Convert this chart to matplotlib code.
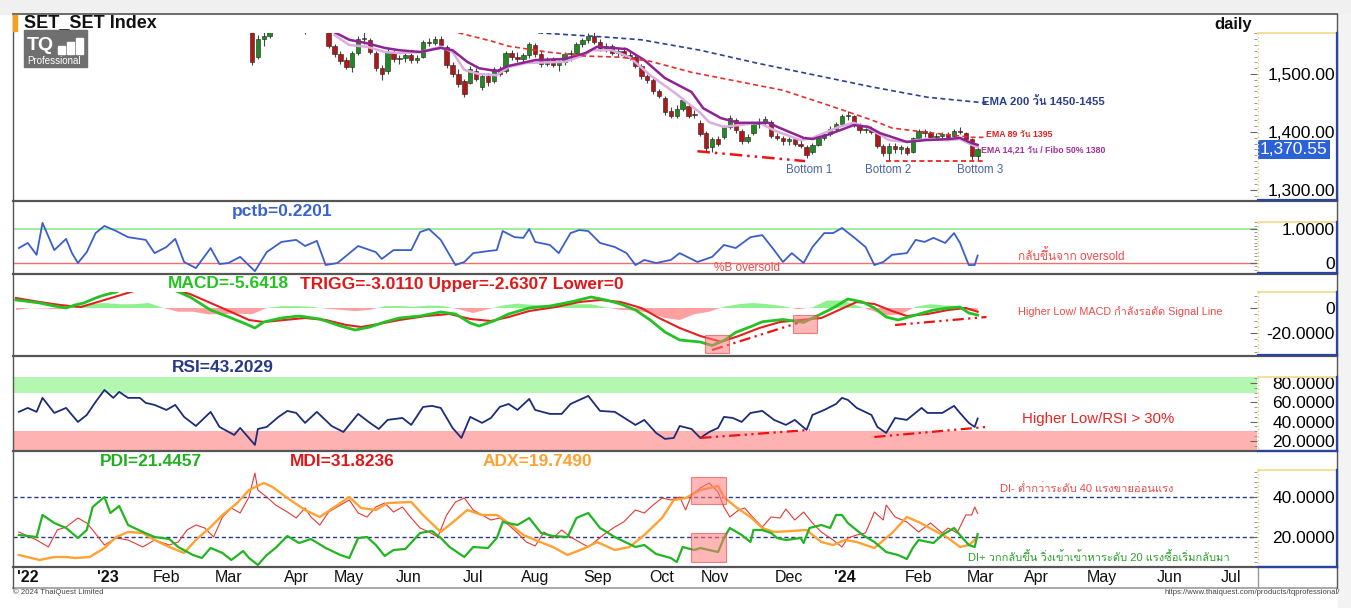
import numpy as np
import matplotlib
matplotlib.use("Agg")
import matplotlib.pyplot as plt
from matplotlib import font_manager
from matplotlib.ft2font import FT2Font
from matplotlib.patches import Rectangle
from matplotlib.lines import Line2D
from matplotlib.ticker import MultipleLocator
from matplotlib.transforms import blended_transform_factory

# ---------------- data (x = trading-day index) ----------------
tick_days = [5, 32, 52, 73, 96, 114, 134, 156, 177, 198, 220, 238, 263, 282, 307, 328, 347, 369, 392, 413]
tick_labels = ["'22", "'23", "Feb", "Mar", "Apr", "May", "Jun", "Jul", "Aug", "Sep", "Oct", "Nov", "Dec",
               "'24", "Feb", "Mar", "Apr", "May", "Jun", "Jul"]

# candles every 2nd session, day 79 .. 327
candle_day = list(range(79, 328, 2))
opens = [1585, 1575, 1530, 1560, 1566, 1578, 1585, 1590, 1594, 1596,
         1584, 1578, 1588, 1590, 1572, 1548, 1534, 1524, 1512, 1536,
         1560, 1558, 1536, 1510, 1505, 1538, 1526, 1528, 1532, 1524,
         1530, 1555, 1553, 1560, 1546, 1515, 1500, 1488, 1485, 1506,
         1478, 1496, 1488, 1508, 1505, 1536, 1530, 1526, 1532, 1550,
         1534, 1518, 1526, 1516, 1520, 1534, 1536, 1552, 1558, 1566,
         1556, 1545, 1548, 1536, 1540, 1533, 1530, 1514, 1496, 1490,
         1470, 1458, 1436, 1428, 1440, 1445, 1432, 1415, 1398, 1374,
         1388, 1392, 1408, 1420, 1402, 1384, 1398, 1414, 1418, 1418,
         1394, 1390, 1384, 1388, 1380, 1374, 1366, 1378, 1390, 1397,
         1406, 1414, 1428, 1428, 1412, 1404, 1406, 1398, 1376, 1364,
         1376, 1370, 1372, 1366, 1390, 1402, 1398, 1392, 1394, 1396,
         1394, 1402, 1398, 1388, 1358]
highs = [1592, 1578, 1568, 1572, 1580, 1590, 1596, 1600, 1604, 1602,
         1590, 1592, 1598, 1594, 1578, 1552, 1540, 1530, 1540, 1566,
         1572, 1562, 1540, 1516, 1545, 1542, 1532, 1538, 1536, 1532,
         1558, 1562, 1566, 1565, 1550, 1520, 1508, 1492, 1514, 1510,
         1500, 1502, 1512, 1514, 1540, 1541, 1538, 1536, 1555, 1554,
         1540, 1530, 1530, 1524, 1538, 1541, 1556, 1562, 1570, 1572,
         1560, 1553, 1551, 1545, 1546, 1538, 1534, 1518, 1500, 1494,
         1474, 1462, 1444, 1446, 1458, 1448, 1438, 1420, 1402, 1392,
         1394, 1412, 1429, 1424, 1406, 1396, 1418, 1424, 1428, 1420,
         1398, 1394, 1392, 1390, 1386, 1378, 1382, 1394, 1400, 1410,
         1418, 1432, 1436, 1430, 1416, 1412, 1410, 1400, 1380, 1382,
         1382, 1378, 1376, 1392, 1405, 1406, 1402, 1398, 1400, 1400,
         1406, 1408, 1400, 1390, 1374]
lows = [1576, 1515, 1526, 1548, 1562, 1574, 1580, 1584, 1586, 1580,
        1569, 1574, 1582, 1574, 1545, 1530, 1518, 1508, 1503, 1532,
        1552, 1534, 1505, 1490, 1500, 1520, 1518, 1520, 1519, 1519,
        1528, 1548, 1550, 1546, 1510, 1495, 1478, 1460, 1482, 1488,
        1472, 1480, 1485, 1496, 1502, 1524, 1520, 1521, 1528, 1530,
        1512, 1514, 1512, 1506, 1516, 1522, 1534, 1546, 1553, 1552,
        1540, 1538, 1532, 1529, 1530, 1524, 1510, 1492, 1484, 1466,
        1458, 1430, 1424, 1424, 1436, 1425, 1424, 1393, 1366, 1366,
        1376, 1388, 1405, 1398, 1380, 1381, 1395, 1407, 1412, 1390,
        1386, 1378, 1378, 1376, 1372, 1355, 1362, 1376, 1386, 1394,
        1402, 1412, 1420, 1408, 1398, 1398, 1396, 1372, 1358, 1352,
        1364, 1362, 1360, 1364, 1388, 1392, 1388, 1386, 1388, 1390,
        1392, 1396, 1384, 1352, 1352]
closes = [1580, 1521, 1560, 1566, 1576, 1585, 1590, 1594, 1598, 1584,
          1578, 1588, 1590, 1578, 1548, 1534, 1522, 1512, 1536, 1560,
          1562, 1538, 1510, 1500, 1538, 1526, 1528, 1532, 1524, 1528,
          1555, 1553, 1560, 1550, 1515, 1500, 1482, 1466, 1508, 1492,
          1496, 1486, 1508, 1500, 1536, 1530, 1526, 1532, 1552, 1534,
          1518, 1526, 1516, 1520, 1534, 1536, 1552, 1558, 1566, 1556,
          1545, 1548, 1536, 1540, 1533, 1528, 1514, 1496, 1490, 1470,
          1462, 1434, 1428, 1440, 1455, 1428, 1430, 1396, 1372, 1388,
          1380, 1408, 1424, 1404, 1384, 1392, 1414, 1418, 1422, 1394,
          1390, 1384, 1388, 1380, 1376, 1360, 1378, 1390, 1397, 1406,
          1414, 1428, 1430, 1412, 1404, 1406, 1400, 1376, 1364, 1376,
          1370, 1374, 1364, 1390, 1402, 1398, 1392, 1394, 1396, 1392,
          1402, 1400, 1388, 1358, 1370.55]

ema21_day = [109, 114, 120, 126, 131, 138, 145, 149, 154, 158, 164, 168, 177, 187, 194, 198, 208, 214, 221, 230,
             234, 240, 246, 256, 260, 268, 271, 276, 285, 290, 294, 303, 309, 317, 321, 325, 327]
ema21_val = [1572, 1559, 1553, 1545, 1541, 1538, 1545, 1541, 1521, 1510, 1505, 1514, 1524, 1526, 1536, 1547, 1543,
             1524, 1493, 1469, 1441, 1424, 1416, 1416, 1407, 1390, 1388, 1395, 1412, 1409, 1398, 1383, 1386, 1388,
             1390, 1381, 1378]
ema14_day = [109, 114, 120, 126, 131, 138, 145, 149, 153, 158, 164, 168, 174, 187, 194, 196, 203, 209, 216, 224,
             233, 236, 241, 246, 253, 258, 267, 271, 280, 285, 290, 297, 303, 309, 317, 321, 325, 327]
ema14_val = [1567, 1550, 1547, 1538, 1536, 1538, 1547, 1538, 1507, 1500, 1498, 1512, 1519, 1521, 1533, 1541, 1541,
             1529, 1498, 1469, 1433, 1417, 1409, 1412, 1416, 1403, 1386, 1390, 1409, 1416, 1407, 1386, 1383, 1388,
             1386, 1388, 1378, 1374]
ema89_day = [151, 162, 168, 181, 194, 206, 216, 230, 243, 261, 276, 291, 298, 309, 325, 329]
ema89_val = [1571, 1557, 1548, 1538, 1531, 1529, 1522, 1503, 1490, 1472, 1447, 1421, 1407, 1400, 1391, 1391]
ema200_day = [178, 200, 213, 233, 252, 272, 291, 310, 326, 330]
ema200_val = [1571, 1564, 1559, 1541, 1519, 1498, 1478, 1460, 1452, 1450]

bottom_line_day = [232, 268.5]
bottom_line_val = [1367, 1350]
base_line_day = [296, 329]
base_line_val = [1350, 1350]

pctb_day = [2, 5, 8, 10, 14, 18, 20, 22, 25, 28, 31, 35, 39, 45, 48, 52, 55, 58, 62, 67,
            70, 73, 77, 82, 86, 91, 96, 99, 103, 106, 110, 117, 123, 125, 129, 135, 138, 141, 145, 150,
            153, 156, 161, 164, 166, 170, 173, 175, 177, 182, 185, 189, 192, 195, 199, 204, 208, 211, 214, 218,
            223, 226, 232, 237, 241, 245, 250, 254, 258, 261, 264, 268, 271, 275, 278, 281, 285, 289, 292, 295,
            298, 303, 306, 309, 312, 316, 319, 321, 324, 326, 327]
pctb_val = [0.44, 0.59, 0.24, 1.18, 0.38, 0.71, 0.29, 0.0, 0.32, 0.88, 1.09, 0.94, 0.76, 0.68, 0.29, 0.47, 0.71,
            0.03, -0.15, 0.44, -0.03, 0.0, 0.18, -0.24, 0.32, 0.62, 0.68, 0.50, 0.65, -0.06, 0.0, 0.50, 0.32, 0.12,
            0.38, 0.38, 0.91, 1.0, 0.68, -0.06, 0.03, 0.29, 0.35, 0.38, 0.94, 0.76, 0.74, 1.0, 0.62, 0.53, 0.29,
            0.88, 0.97, 0.94, 0.59, 0.47, 0.29, -0.06, 0.09, 0.0, 0.09, 0.29, 0.03, 0.18, 0.53, 0.44, 0.76, 0.82,
            0.38, 0.03, 0.29, 0.0, 0.47, 0.88, 0.88, 1.03, 0.76, 0.47, -0.06, 0.03, 0.24, 0.29, 0.68, 0.62, 0.74,
            0.59, 0.88, 0.59, -0.06, -0.06, 0.22]

macd_day = [1, 4, 9, 14, 18, 21, 24, 28, 31, 35, 40, 46, 53, 60, 67, 74, 79, 82, 85, 91, 97, 104, 111, 116, 121,
            126, 131, 138, 145, 150, 155, 158, 163, 168, 175, 182, 189, 196, 201, 206, 211, 216, 221, 226, 233,
            237, 241, 245, 250, 254, 261, 268, 272, 278, 283, 288, 292, 296, 300, 306, 312, 317, 321, 324, 327]
macd_val = [6.4, 5.6, 4, 1.6, 0, 2.4, 4, 8, 10.4, 12.8, 18, 20, 16, 8.8, -1.6, -8, -12.8, -16, -11.2, -8, -6.4,
            -8.8, -14.4, -17.6, -15.2, -11.2, -8, -6.4, -3.2, -4.8, -12, -14.4, -10.4, -4.8, 0, 1.6, 4.8, 8.8, 6.4,
            3.2, -1.6, -9.6, -19.2, -25.6, -27.2, -30, -26, -19.5, -15, -11, -9.2, -11.5, -7, 0, 7.2, 4.8, 0, -7.2,
            -9.6, -5.6, -1.6, 0, 0.8, -4, -5.64]
trigg_day = [1, 9, 16, 23, 29, 36, 43, 52, 60, 67, 74, 80, 85, 92, 99, 106, 113, 118, 124, 131, 140, 148, 155, 162,
             168, 175, 184, 192, 199, 206, 213, 219, 226, 233, 240, 246, 253, 260, 267, 274, 280, 286, 292, 298,
             303, 310, 317, 323, 327]
trigg_val = [8, 4.8, 2.4, 0.8, 5, 10, 15, 16, 11.2, 4, -3.2, -9.6, -11.2, -9.6, -8, -9.6, -13.6, -15.2, -12.8,
             -9.6, -6.4, -4.8, -8.8, -10.4, -7.2, -2.4, 0.8, 4.8, 6.4, 4.8, 0, -8, -16, -22.4, -27, -22.4, -16,
             -11.2, -9.6, -8, -1.6, 4.8, 3.2, -2.4, -6.4, -4.8, -1.6, 0, -3.01]
hist_day = [1, 6, 11, 16, 21, 26, 31, 36, 41, 46, 51, 56, 61, 66, 71, 76, 81, 86, 91, 96, 101, 106, 111, 116, 121,
            126, 131, 136, 141, 146, 151, 156, 161, 166, 171, 176, 181, 186, 191, 196, 201, 206, 211, 216, 221,
            226, 231, 236, 241, 246, 251, 256, 261, 266, 271, 276, 281, 286, 291, 296, 301, 306, 311, 316, 321,
            324, 327]
hist_val = [-1.6, 0, -0.5, -1, 1.5, 3, 4, 3, 3, 4, 0, -3, -3, -5, -5, -4.5, -5, 0, 1.5, 1.5, 1, -0.5, -1.5, -2.5,
            -1.5, 1.5, 1.6, 1, 2, 1.5, -1, -4, -1, 2, 3.5, 2.5, 2, 3, 3, 3, 0.5, -1.5, -2, -4, -8, -9.6, -5, -3, 1,
            3, 4, 3, 1.5, -1, 0.5, 6, 6, 2, -2, -6, -5, 1, 3, 2, 1.5, -2, -2.63]
macd_tl1_day, macd_tl1_val = [237, 266], [-33.6, -12]
macd_tl2_day, macd_tl2_val = [299, 330], [-13.6, -7.2]

rsi_day = [2, 5, 8, 10, 14, 18, 20, 22, 25, 28, 31, 34, 36, 39, 43, 45, 48, 52, 55, 58,
           62, 67, 70, 75, 77, 82, 83, 86, 90, 93, 96, 99, 103, 108, 112, 117, 121, 124, 127, 132,
           135, 139, 142, 145, 149, 152, 155, 159, 162, 165, 168, 171, 175, 177, 182, 186, 189, 195, 199, 204,
           211, 214, 218, 221, 224, 226, 230, 233, 236, 239, 241, 244, 247, 250, 254, 258, 262, 265, 269, 271,
           275, 279, 281, 283, 286, 291, 293, 296, 299, 303, 308, 310, 315, 319, 321, 324, 326, 327]
rsi_val = [50.1, 54.2, 50.1, 64.6, 49, 54.2, 46.9, 39.7, 46.9, 60.4, 72.8, 64.6, 70.8, 64.6, 64.6, 59.4, 57.3,
           52.1, 57.3, 44.9, 35.5, 50.1, 34.5, 26.2, 33.5, 15.9, 32.4, 34.5, 44.9, 51.1, 49, 38.7, 50.1, 35.5,
           29.3, 48, 38.7, 32.4, 41.8, 43.8, 36.6, 55.2, 56.3, 54.2, 33.5, 23.1, 44.9, 38.7, 43.8, 55.2, 58.3,
           52.1, 63.5, 52.1, 48, 48, 58.3, 66.6, 51.1, 50.1, 36.6, 41.8, 28.3, 22.1, 23.1, 35.5, 32.4, 23.1, 29.3,
           33.5, 44.9, 43.8, 39.7, 49, 51.1, 41.8, 36.6, 41.8, 31.4, 46.9, 52.1, 58.3, 64.6, 62.5, 54.2, 46.9,
           34.5, 28.3, 43.8, 41.8, 54.2, 49, 49, 56.3, 49, 38.7, 34.5, 43.2]
rsi_tl1_day, rsi_tl1_val = [233, 270], [23.1, 31.4]
rsi_tl2_day, rsi_tl2_val = [292, 330], [24.1, 34.5]

pdi_day = [2, 8, 10, 14, 18, 22, 25, 27, 31, 33, 36, 39, 44, 48, 53, 56, 61, 64, 67, 71, 74, 78, 80, 83, 86, 89,
           93, 97, 101, 106, 111, 114, 117, 120, 123, 126, 129, 133, 138, 142, 145, 148, 153, 156, 161, 164, 166,
           171, 175, 179, 183, 188, 191, 195, 199, 204, 211, 214, 218, 223, 225, 227, 231, 233, 236, 239, 241,
           243, 247, 250, 251, 254, 257, 259, 262, 267, 268, 270, 274, 277, 279, 281, 283, 288, 292, 296, 300,
           303, 305, 307, 312, 315, 319, 321, 324, 326, 327]
pdi_val = [21, 20, 31, 27, 24.5, 19.5, 23.5, 35, 40, 32, 35.5, 26, 22.5, 20, 19, 15, 11, 9.5, 14.5, 12, 8.5, 13,
           9.5, 6, 11, 14.5, 20.5, 17, 19, 14.5, 11, 9.5, 19.5, 20, 16, 10.5, 13.5, 14, 22, 23, 19.5, 15, 10, 15,
           14.5, 19.5, 27.5, 26, 29.5, 22, 20.5, 20, 29.5, 32, 24.5, 20, 15, 16, 11.5, 9.5, 7.5, 15, 13.5, 14.5,
           13.5, 12.5, 19.5, 24.5, 21, 17.5, 23.5, 23.5, 22, 19.5, 18.5, 19.5, 17, 24.5, 26, 24.5, 31, 31, 27, 21,
           17.5, 12.5, 11, 9, 14.5, 18.5, 17, 21, 24.5, 21, 16, 15, 21.45]
mdi_day = [2, 8, 12, 15, 18, 22, 25, 27, 31, 35, 39, 44, 48, 53, 56, 59, 62, 65, 68, 71, 74, 77, 80, 82, 83, 86,
           89, 93, 96, 99, 101, 104, 107, 111, 114, 117, 120, 123, 126, 129, 132, 135, 138, 141, 144, 147, 150,
           153, 156, 159, 162, 165, 168, 171, 174, 177, 180, 183, 186, 189, 192, 195, 198, 201, 204, 207, 211,
           214, 217, 220, 223, 226, 228, 230, 233, 236, 239, 241, 243, 246, 248, 251, 254, 257, 260, 262, 265,
           268, 271, 274, 278, 281, 283, 286, 289, 292, 295, 296, 299, 303, 307, 311, 315, 317, 320, 323, 325,
           326, 327]
mdi_val = [22.5, 18.5, 15, 23.5, 25, 29.5, 27, 23.5, 16, 19.5, 18.5, 15, 18.5, 16, 17.5, 23.5, 26, 24.5, 20, 30,
           34.5, 32, 40, 52, 43.5, 40, 36, 32.5, 29.5, 34.5, 30, 26, 32.5, 36, 38.5, 32, 30, 35, 37, 32.5, 35,
           29.5, 24.5, 22.5, 20, 31, 37.5, 39.5, 33.5, 31, 28.5, 29.5, 26, 22, 17.5, 15.5, 22.5, 19.5, 23.5, 20,
           17.5, 15, 18.5, 22, 25, 27.5, 33.5, 32, 36, 39.5, 38.5, 40, 33.5, 41, 44.5, 47, 42.5, 35, 30, 33.5,
           34.5, 29.5, 25, 30, 29.5, 34, 28.5, 32.5, 27, 22.5, 18.5, 15, 19.5, 21, 22, 32.5, 28.5, 36, 30, 27.5,
           22.5, 27, 22, 24.5, 22, 31, 31, 35, 31.82]
adx_day = [2, 9, 14, 18, 21, 26, 31, 35, 39, 44, 48, 53, 58, 62, 67, 71, 76, 80, 85, 88, 93, 99, 104, 109, 114,
           118, 123, 127, 135, 139, 145, 150, 154, 159, 164, 168, 173, 177, 183, 188, 194, 198, 204, 209, 214,
           220, 224, 228, 233, 239, 241, 245, 250, 254, 258, 264, 269, 274, 278, 282, 286, 292, 298, 303, 307,
           312, 317, 321, 324, 327]
adx_val = [11, 8.5, 10, 10, 9.5, 10, 14.5, 20, 22.5, 22, 18.5, 15, 12, 18.5, 25, 31, 37, 43.5, 47, 45, 39.5,
           33.5, 30, 35, 40, 34.5, 33.5, 37, 37.5, 31, 22.5, 28.5, 33.5, 31, 31, 27, 21, 18.5, 15, 11, 14.5, 17.5,
           13.5, 15, 21, 29.5, 38.5, 39.5, 43.5, 45.5, 40, 35, 30, 24.5, 22.5, 23, 23.5, 17.5, 16, 18.5, 17.5,
           14.5, 22, 30, 27.5, 23.5, 19.5, 15, 16, 19.75]

# highlighted zones: (day0, day1, low, high)
macd_boxes = [(234.6, 242.7, -36, -21.6), (264.4, 272.5, -20, -5.6)]
dmi_boxes = [(229.8, 241.7, 36.5, 50), (229.8, 241.7, 7.5, 22)]

# ---------------- fonts ----------------
thai_font = None
for f in font_manager.fontManager.ttflist:
    try:
        if 0x0E27 in FT2Font(f.fname).get_charmap():
            thai_font = f.name
            break
    except Exception:
        pass
fams = ["Liberation Sans"] + ([thai_font] if thai_font else []) + ["DejaVu Sans"]
plt.rcParams["font.family"] = fams

# ---------------- layout (pixel helpers) ----------------
W, H = 1351, 608
X0, X1 = 13, 1257
X_END = (X1 - X0) / 2.95
fig = plt.figure(figsize=(W / 100, H / 100), dpi=100)
fig.patch.set_facecolor("white")


def hl(y, x0, x1, color, lw=1.0, ls="-", z=5):
    fig.add_artist(Line2D([x0 / W, x1 / W], [1 - y / H, 1 - y / H], color=color, lw=lw, ls=ls, zorder=z))


def vl(x, y0, y1, color, lw=1.0, ls="-", z=5):
    fig.add_artist(Line2D([x / W, x / W], [1 - y0 / H, 1 - y1 / H], color=color, lw=lw, ls=ls, zorder=z))


def ftext(x, y, s, **kw):
    kw.setdefault("va", "center")
    fig.text(x / W, 1 - y / H, s, **kw)


def panel(top, bottom, ylim, ticks, labels, minor):
    ax = fig.add_axes([X0 / W, 1 - bottom / H, (X1 - X0) / W, (bottom - top) / H])
    ax.set_xlim(0, X_END)
    ax.set_ylim(*ylim)
    ax.set_xticks([])
    for s in ax.spines.values():
        s.set_visible(False)
    ax.yaxis.tick_right()
    ax.set_yticks(ticks)
    ax.set_yticklabels(labels)
    ax.yaxis.set_minor_locator(MultipleLocator(minor))
    ax.tick_params(axis="y", which="major", direction="in", length=5, color="#666", labelsize=12.5, pad=56)
    ax.tick_params(axis="y", which="minor", direction="in", length=2, color="#888")
    plt.setp(ax.get_yticklabels(), ha="right")
    ax.patch.set_alpha(0)
    # right value box
    hl(top, 1258, 1337, "#f3dc92", 1.3)
    vl(1258, top, bottom, "#e9cd78", 1.0, ":")
    vl(1336.5, top, bottom, "#2a44a0", 1.6, z=6)
    hl(bottom, 1258, 1337, "#2a44a0", 1.6, z=6)
    return ax


# background strips
fig.add_artist(Rectangle((0, 1 - 14 / H), 1, 14 / H, transform=fig.transFigure, color="#f0f0f0", zorder=0))
fig.add_artist(Rectangle((1338 / W, 0), 13 / W, 1 - 14 / H, transform=fig.transFigure, color="#f3f3f3", zorder=0))

# ---------------- price panel ----------------
axp = panel(33, 200, (1283, 1570.7), [1300, 1400, 1500], ["1,300.00", "1,400.00", "1,500.00"], 10)
for d, o, h, l, c in zip(candle_day, opens, highs, lows, closes):
    col = "#1f8a1f" if c >= o else "#b01818"
    axp.vlines(d, l, h, color="#444", lw=0.8, zorder=2)
    axp.add_patch(Rectangle((d - 0.75, min(o, c)), 1.5, max(abs(c - o), 0.8), facecolor=col,
                            edgecolor="#222", lw=0.4, zorder=3))
axp.plot(ema14_day, ema14_val, color="#dcaee0", lw=1.8, zorder=4)
axp.plot(ema21_day, ema21_val, color="#8e2491", lw=1.8, zorder=4)
axp.plot(ema89_day, ema89_val, color="#e83030", lw=1.2, ls=(0, (3, 2)), zorder=4)
axp.plot(ema200_day, ema200_val, color="#2b4290", lw=1.2, ls=(0, (3, 2)), zorder=4)
axp.plot(bottom_line_day, bottom_line_val, color="#ee1111", lw=1.8, ls=(0, (5, 2, 1, 2, 1, 2)), zorder=4)
axp.plot(base_line_day, base_line_val, color="#ee1111", lw=1.2, ls=(0, (3, 2)), zorder=4)
for d, lab in [(270, "Bottom 1"), (296.5, "Bottom 2"), (328, "Bottom 3")]:
    axp.text(d, 1334, lab, ha="center", va="center", fontsize=8.3, color="#4a62aa")
axp.text(328.5, 1452, "EMA 200 วัน 1450-1455", fontsize=8.2, fontweight="bold", color="#2b3f8f", va="center",
         clip_on=False)
axp.text(330, 1395, "EMA 89 วัน 1395", fontsize=6.3, fontweight="bold", color="#e02020", va="center",
         clip_on=False)
axp.text(328, 1369, "EMA 14,21 วัน / Fibo 50% 1380", fontsize=6.3, fontweight="bold", color="#a0309a",
         va="center", clip_on=False)
axp.text(1 + 3 / 1244, closes[-1], "1,370.55", transform=blended_transform_factory(axp.transAxes, axp.transData),
         ha="left", va="center", color="white", fontsize=12.5, clip_on=False,
         bbox=dict(boxstyle="square,pad=0.12", fc="#2b62d9", ec="none"))

# title + logo
ftext(24, 23, "SET_SET Index", fontsize=13, fontweight="bold", color="#111")
ftext(1252, 24, "daily", fontsize=12, fontweight="bold", color="#111", ha="right")
fig.add_artist(Rectangle((13 / W, 1 - 31 / H), 4 / W, 16 / H, transform=fig.transFigure, color="#f5a31a", zorder=6))
fig.add_artist(Rectangle((24 / W, 1 - 67 / H), 63 / W, 37 / H, transform=fig.transFigure, color="#6f6f6f", zorder=6))
ftext(27, 46, "TQ", fontsize=14, fontweight="bold", color="white", zorder=7)
for i, hgt in enumerate([8, 12, 16]):
    fig.add_artist(Rectangle(((58 + i * 9) / W, 1 - 54 / H), 7 / W, hgt / H, transform=fig.transFigure,
                             color="white", zorder=7))
ftext(27, 61, "Professional", fontsize=7, color="white", zorder=7)

# ---------------- pctb panel ----------------
axb = panel(222, 273, (-0.294, 1.206), [0, 1], ["0", "1.0000"], 0.1)
axb.axhline(1.0, color="#8eea8e", lw=1.2, zorder=1)
axb.axhline(0.0, color="#f07070", lw=1.0, zorder=1)
axb.plot(pctb_day, pctb_val, color="#3a5fcd", lw=1.3, zorder=3)
axb.text(237.6, -0.15, "%B oversold", fontsize=8.5, color="#f04848", va="center")
axb.text(340.7, 0.2, "กลับขึ้นจาก oversold", fontsize=8.5, color="#f04848", va="center")
ftext(232, 212, "pctb=0.2201", fontsize=12.5, fontweight="bold", color="#3a62d0")

# ---------------- MACD panel ----------------
axm = panel(292, 355, (-37.6, 12.8), [-20, 0], ["-20.0000", "0"], 5)
hd, hv = np.array(hist_day), np.array(hist_val)
axm.fill_between(hd, hv, 0, where=hv >= 0, interpolate=True, color="#8ef08e", lw=0, zorder=1)
axm.fill_between(hd, hv, 0, where=hv <= 0, interpolate=True, color="#ffa0a0", lw=0, zorder=1)
axm.plot(trigg_day, trigg_val, color="#e52020", lw=1.5, zorder=3)
axm.plot(macd_day, macd_val, color="#22c322", lw=2.0, zorder=3)
axm.plot(macd_tl1_day, macd_tl1_val, color="#ee1111", lw=1.6, ls=(0, (5, 2, 1, 2, 1, 2)), zorder=4)
axm.plot(macd_tl2_day, macd_tl2_val, color="#ee1111", lw=1.6, ls=(0, (5, 2, 1, 2, 1, 2)), zorder=4)
for d0, d1, lo, hi in macd_boxes:
    axm.add_patch(Rectangle((d0, lo), d1 - d0, hi - lo, facecolor="#ff7a7a", alpha=0.55, edgecolor="#e03030",
                            lw=0.8, zorder=5))
axm.text(340.7, -3.2, "Higher Low/ MACD กำลังรอตัด Signal Line", fontsize=7.8, color="#f04848", va="center")
ftext(168, 284, "MACD=-5.6418", fontsize=12.5, fontweight="bold", color="#22c422")
ftext(300, 284, "TRIGG=-3.0110 Upper=-2.6307 Lower=0", fontsize=12.5, fontweight="bold", color="#e01818")

# ---------------- RSI panel ----------------
axr = panel(377, 451, (9.6, 86.2), [20, 40, 60, 80], ["20.0000", "40.0000", "60.0000", "80.0000"], 5)
axr.axhspan(70, 90, color="#b4f7b0", lw=0, zorder=0)
axr.axhspan(0, 30, color="#ffb2b2", lw=0, zorder=0)
axr.plot(rsi_day, rsi_val, color="#1c2d78", lw=1.3, zorder=3)
axr.plot(rsi_tl1_day, rsi_tl1_val, color="#ee1111", lw=1.6, ls=(0, (5, 2, 1, 2, 1, 2)), zorder=4)
axr.plot(rsi_tl2_day, rsi_tl2_val, color="#ee1111", lw=1.6, ls=(0, (5, 2, 1, 2, 1, 2)), zorder=4)
axr.text(342, 42.8, "Higher Low/RSI > 30%", fontsize=10.8, color="#ee2222", va="center")
ftext(172, 367, "RSI=43.2029", fontsize=12.5, fontweight="bold", color="#28388a")

# ---------------- DMI panel ----------------
axd = panel(470, 567, (5, 53.5), [20, 40], ["20.0000", "40.0000"], 2.5)
axd.axhline(40, color="#2b3a8c", lw=1.0, ls=(0, (3, 2)), zorder=1)
axd.axhline(20, color="#2b3a8c", lw=1.0, ls=(0, (3, 2)), zorder=1)
axd.plot(mdi_day, mdi_val, color="#e53935", lw=0.8, zorder=3)
axd.plot(adx_day, adx_val, color="#ffa233", lw=1.7, zorder=3)
axd.plot(pdi_day, pdi_val, color="#22b522", lw=1.6, zorder=4)
for d0, d1, lo, hi in dmi_boxes:
    axd.add_patch(Rectangle((d0, lo), d1 - d0, hi - lo, facecolor="#ff7a7a", alpha=0.55, edgecolor="#e03030",
                            lw=0.8, zorder=5))
axd.text(334.6, 44, "DI- ต่ำกว่าระดับ 40 แรงขายอ่อนแรง", fontsize=8, color="#e84848", va="center")
axd.text(323.7, 10, "DI+ วกกลับขึ้น วิ่งเข้าเข้าหาระดับ 20 แรงซื้อเริ่มกลับมา", fontsize=8, color="#2aa02a",
         va="center")
ftext(100, 462, "PDI=21.4457", fontsize=12.5, fontweight="bold", color="#20b020")
ftext(290, 462, "MDI=31.8236", fontsize=12.5, fontweight="bold", color="#e01818")
ftext(483, 462, "ADX=19.7490", fontsize=12.5, fontweight="bold", color="#ffa030")

# ---------------- time axis ----------------
axx = fig.add_axes([X0 / W, 1 - 588 / H, (X1 - X0) / W, 21 / H])
axx.set_xlim(0, X_END)
axx.set_ylim(0, 1)
axx.axis("off")
for d, lab in zip(tick_days, tick_labels):
    axx.text(d, 0.48, lab, ha="center", va="center", fontsize=11.5,
             fontweight="bold" if lab.startswith("'") else "normal", color="#111")

# ---------------- frame lines ----------------
hl(14, 13, 1337, "#555", 1.2)
for y in [200.5, 274, 356, 451, 567]:
    hl(y, 13, 1337, "#555", 1.6)
hl(588, 13, 1337, "#999", 1.2)
vl(13, 14, 588, "#555", 1.0)
vl(1337, 14, 588, "#555", 1.0)
vl(1258, 567, 588, "#999", 1.0)

ftext(13, 592, "© 2024 ThaiQuest Limited", fontsize=5.6, color="#444")
ftext(1340, 593, "https://www.thaiquest.com/products/tqprofessional/", fontsize=5.6, color="#444", ha="right")

fig.savefig("out.png", dpi=100)
